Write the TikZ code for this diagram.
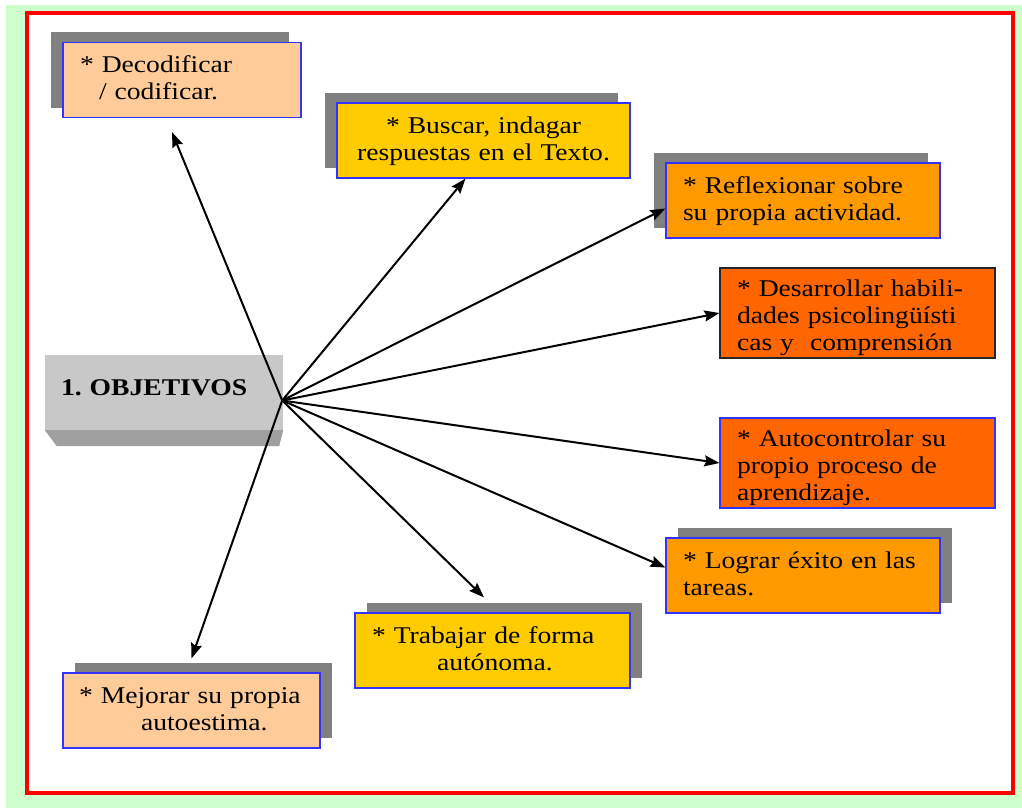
\documentclass[tikz,border=0pt]{standalone}
\usepackage{fontspec}
\setmainfont{Liberation Serif}[FakeStretch=1.15]
\usepackage{tikz}
\usetikzlibrary{arrows.meta, shadows, calc}
\definecolor{bggreen}{RGB}{204, 255, 204}
\definecolor{framered}{RGB}{255, 0, 0}
\definecolor{boxblue}{RGB}{51, 51, 255}
\definecolor{peach}{RGB}{255, 204, 153}
\definecolor{goldyellow}{RGB}{255, 204, 0}
\definecolor{lightorange}{RGB}{255, 153, 0}
\definecolor{darkorange}{RGB}{255, 102, 0}
\definecolor{facegray}{RGB}{200, 200, 200}
\definecolor{bevelgray}{RGB}{160, 160, 160}
\definecolor{shadowgray}{RGB}{128, 128, 128}

\begin{document}
\begin{tikzpicture}[x=1pt, y=-1pt, >=Stealth,
    goal/.style={rectangle, draw=boxblue, line width=1.2pt, minimum height=75pt, inner xsep=17pt, inner ysep=4pt, text height=17pt, text depth=32pt, align=left, font=\fontsize{24}{27}\selectfont},
    tall/.style={minimum height=90pt, text height=20pt, text depth=54pt},
    shadowleft/.style={drop shadow={shadow xshift=-12pt, shadow yshift=10pt, fill=shadowgray, opacity=1}},
    shadowright/.style={drop shadow={shadow xshift=12pt, shadow yshift=10pt, fill=shadowgray, opacity=1}},
    title/.style={rectangle, fill=facegray, minimum width=238pt, inner xsep=16pt, inner ysep=24.5pt, text width=206pt, text height=16pt, text depth=10pt, align=left, font=\fontsize{24}{27}\selectfont\bfseries},
    arrow/.style={line width=2pt, -{Stealth[length=15pt, width=11pt, inset=2pt]}}]

    % Frame
    \fill[white] (0,0) rectangle (1022,808);
    \fill[bggreen] (6,5) rectangle (1022,808);
    \draw[framered, line width=4pt, fill=white] (27,13) rectangle (1013,793);

    % Nodes
    \node[title] (obj) at (164,392.5) {1.\ OBJETIVOS};
    \fill[bevelgray] (obj.south west) -- (obj.south east) -- ++(-4,16) -- ($(obj.south west)+(12,16)$) -- cycle;
    \coordinate (hub) at ([xshift=-1pt, yshift=-8pt]obj.east);

    \node[goal, fill=peach, shadowleft, text width=204pt] (dec) at (182,80) {* Decodificar\\\hspace*{19pt}/ codificar.};
    \node[goal, fill=goldyellow, shadowleft, inner xsep=10pt, text width=273pt, align=center] (bus) at (483.5,140.5) {* Buscar, indagar\\respuestas en el Texto.};
    \node[goal, fill=lightorange, shadowleft, text width=240pt] (ref) at (803,200.5) {* Reflexionar sobre\\su propia actividad.};
    \node[goal, tall, fill=darkorange, draw=black!85, text width=241pt] (des) at (857.5,313) {* Desarrollar habili-\\dades psicolingüísti\\cas y\ \ comprensión};
    \node[goal, tall, fill=darkorange, text width=241pt] (aut) at (857.5,463) {* Autocontrolar su\\propio proceso de\\aprendizaje.};
    \node[goal, fill=lightorange, shadowright, text width=240pt] (log) at (803,575.5) {* Lograr éxito en las\\tareas.};
    \node[goal, fill=goldyellow, shadowright, text width=241pt] (tra) at (492.5,650.5) {* Trabajar de forma\\\hspace*{65pt}autónoma.};
    \node[goal, fill=peach, shadowright, text width=225pt, inner xsep=16pt] (mej) at (191.5,710.5) {* Mejorar su propia\\\hspace*{62pt}autoestima.};

    % Flows
    \draw[arrow] (hub) -- ([xshift=-10pt, yshift=-14pt]dec.south);
    \draw[arrow] (hub) -- ([xshift=-18pt]bus.south);
    \draw[arrow] (hub) -- ([yshift=-8pt]ref.west);
    \draw[arrow] (hub) -- (des.west);
    \draw[arrow] (hub) -- (aut.west);
    \draw[arrow] (hub) -- ([yshift=8pt]log.west);
    \draw[arrow] (hub) -- ([xshift=-8.5pt, yshift=15pt]tra.north);
    \draw[arrow] (hub) -- ([yshift=14pt]mej.north);
\end{tikzpicture}
\end{document}
